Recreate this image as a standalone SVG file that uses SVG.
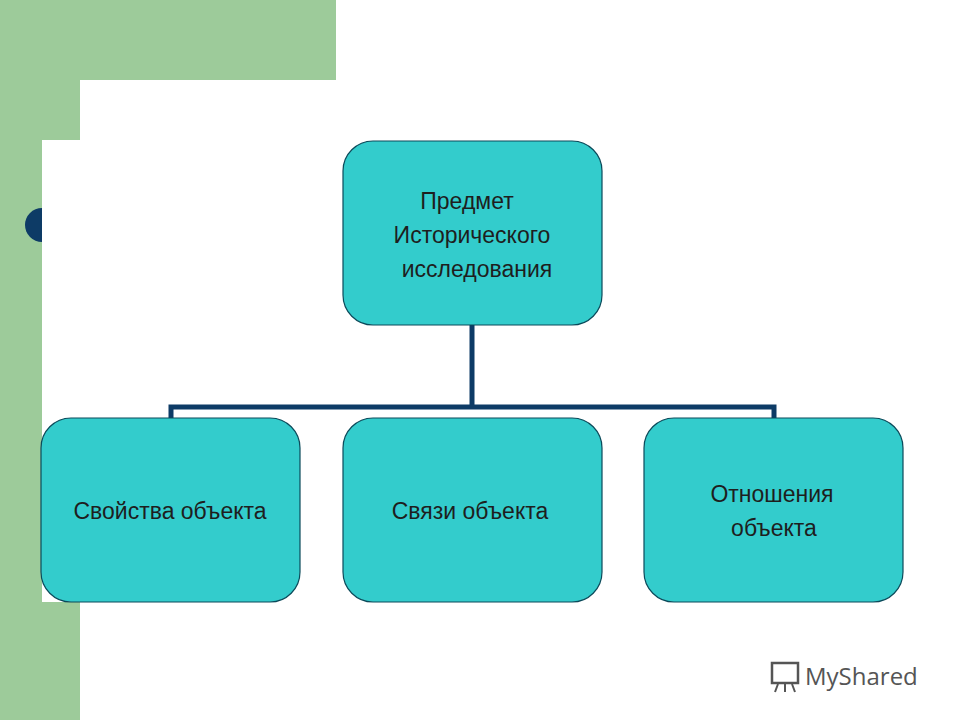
<svg xmlns="http://www.w3.org/2000/svg" width="960" height="720" viewBox="0 0 960 720">
<style>
.box{fill:#33CCCC;stroke:#0B4A5A;stroke-width:1.2}
.t{font-family:"Liberation Sans",Arial,sans-serif;font-size:23px;fill:#1E1E1E;text-anchor:middle}
.c{fill:none;stroke:#0D3B66;stroke-width:5}
</style>
<rect width="960" height="720" fill="#fff"/>
<g id="bg">
<rect x="0" y="0" width="336" height="80" fill="#9DCB9A"/>
<rect x="0" y="0" width="80" height="720" fill="#9DCB9A"/>
<path d="M80,108 A28,28 0 0 1 108,80 L336,80 L336,142 L80,142 Z" fill="#fff"/>
<circle cx="42" cy="225" r="17" fill="#0D3B66"/>
<rect x="42" y="140" width="38" height="462" fill="#fff"/>
</g>
<g id="connectors">
<path class="c" d="M472,325 V407 M171,420 V407 H774 V420"/>
</g>
<g id="n0"><rect class="box" x="343" y="141" width="259" height="184" rx="30"/>
<text class="t" x="467" y="209">Предмет</text>
<text class="t" x="472" y="243">Исторического</text>
<text class="t" x="477" y="277">исследования</text></g>
<g id="n1"><rect class="box" x="41" y="418" width="259" height="184" rx="30"/>
<text class="t" x="170" y="519">Свойства объекта</text></g>
<g id="n2"><rect class="box" x="343" y="418" width="259" height="184" rx="30"/>
<text class="t" x="470" y="519">Связи объекта</text></g>
<g id="n3"><rect class="box" x="644" y="418" width="259" height="184" rx="30"/>
<text class="t" x="772" y="502">Отношения</text>
<text class="t" x="774" y="536">объекта</text></g>
<g id="logo">
<rect x="772" y="663" width="26" height="20" fill="none" stroke="#555" stroke-width="2.5"/>
<path d="M778,684 L775,692 M785,684 V692 M792,684 L795,692" stroke="#555" stroke-width="2"/>
<text x="805" y="685" font-family="Open Sans,sans-serif" font-size="24" fill="#555">MyShared</text>
</g>
</svg>
